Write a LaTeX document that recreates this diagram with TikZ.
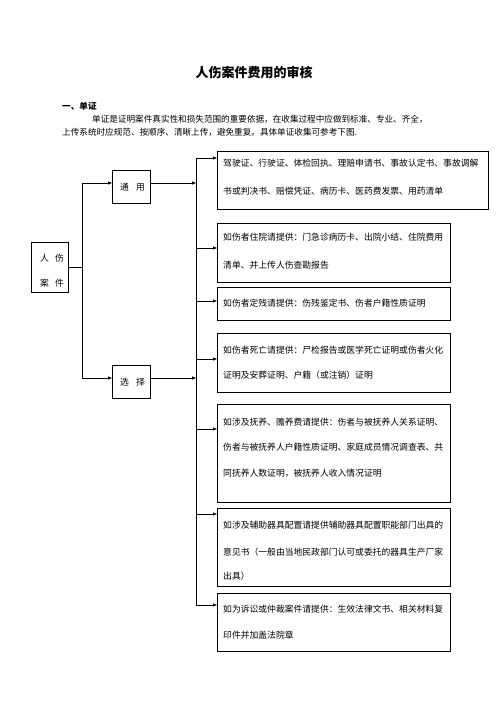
\documentclass[tikz,border=0pt]{standalone}
\usepackage{fontspec}
\setmainfont{Liberation Serif}
\newfontfamily\cjk{Noto Sans CJK SC}
\usetikzlibrary{arrows.meta}
\tikzset{
  box/.style={draw, line width=0.8pt, inner sep=0pt, outer sep=0pt, anchor=north west},
  txt/.style={anchor=west, inner sep=0pt, font=\cjk\fontsize{8.8}{10}\selectfont},
  ptxt/.style={anchor=west, inner sep=0pt, font=\cjk\fontsize{8.6}{10}\selectfont},
  ln/.style={line width=0.8pt},
  arr/.style={line width=0.8pt, -{Triangle[length=4pt,width=3pt]}}
}
\begin{document}
\begin{tikzpicture}[x=1pt,y=-1pt]
\path[use as bounding box] (0,0) rectangle (496,702);
% title and text
\node[inner sep=0pt, font=\cjk\bfseries\fontsize{13}{15}\selectfont] (title) at (254,73) {人伤案件费用的审核};
\node[ptxt, font=\cjk\bfseries\fontsize{8.6}{10}\selectfont] (h1) at (62,106) {一、单证};
\node[ptxt] (p1) at (92,119) {单证是证明案件真实性和损失范围的重要依据，在收集过程中应做到标准、专业、齐全，};
\node[ptxt] (p2) at (62,132) {上传系统时应规范、按顺序、清晰上传，避免重复。具体单证收集可参考下图.};
% left boxes
\node[box, minimum width=37pt, minimum height=50pt] (rs) at (31,242) {};
\node[txt] (rs1) at (40,258) {人\hspace{0.7em}伤};
\node[txt] (rs2) at (40,283) {案\hspace{0.7em}件};
\node[box, minimum width=38pt, minimum height=33pt] (ty) at (112,170) {};
\node[txt] (ty1) at (120,187.5) {通\hspace{0.8em}用};
\node[box, minimum width=38pt, minimum height=33pt] (xz) at (112,365) {};
\node[txt] (xz1) at (120,382) {选\hspace{0.8em}择};
% right boxes
\node[box, minimum width=271pt, minimum height=58pt] (b1) at (217,151) {};
\node[txt] (b1a) at (223,163) {驾驶证、行驶证、体检回执、理赔申请书、事故认定书、事故调解};
\node[txt] (b1b) at (223,191) {书或判决书、赔偿凭证、病历卡、医药费发票、用药清单};
\node[box, minimum width=233pt, minimum height=59pt] (b2) at (217,223) {};
\node[txt] (b2a) at (223,237) {如伤者住院请提供：门急诊病历卡、出院小结、住院费用};
\node[txt] (b2b) at (223,265) {清单、并上传人伤查勘报告};
\node[box, minimum width=233pt, minimum height=33pt] (b3) at (217,287) {};
\node[txt] (b3a) at (223,303) {如伤者定残请提供：伤残鉴定书、伤者户籍性质证明};
\node[box, minimum width=233pt, minimum height=59pt] (b4) at (217,333) {};
\node[txt] (b4a) at (223,350) {如伤者死亡请提供：尸检报告或医学死亡证明或伤者火化};
\node[txt] (b4b) at (223,375) {证明及安葬证明、户籍（或注销）证明};
\node[box, minimum width=233pt, minimum height=98pt] (b5) at (217,404) {};
\node[txt] (b5a) at (223,422) {如涉及抚养、赡养费请提供：伤者与被抚养人关系证明、};
\node[txt] (b5b) at (223,447) {伤者与被抚养人户籍性质证明、家庭成员情况调查表、共};
\node[txt] (b5c) at (223,473) {同抚养人数证明，被抚养人收入情况证明};
\node[box, minimum width=233pt, minimum height=78pt] (b6) at (217,508) {};
\node[txt] (b6a) at (223,525) {如涉及辅助器具配置请提供辅助器具配置职能部门出具的};
\node[txt] (b6b) at (223,552) {意见书（一般由当地民政部门认可或委托的器具生产厂家};
\node[txt] (b6c) at (223,576) {出具）};
\node[box, minimum width=233pt, minimum height=58pt] (b7) at (217,593) {};
\node[txt] (b7a) at (223,609) {如为诉讼或仲裁案件请提供：生效法律文书、相关材料复};
\node[txt] (b7b) at (223,635) {印件并加盖法院章};
% trunk
\coordinate (j0) at (82,267);
\coordinate (jt) at (82,183);
\coordinate (jb) at (82,378);
\draw[ln] (rs.east) -- (j0);
\draw[ln] (jt) -- (jb);
\draw[arr] (jt) -- (ty.west |- jt);
\draw[arr] (jb) -- (xz.west |- jb);
% spine
\coordinate (s1) at (196,158);
\coordinate (s2) at (196,248);
\coordinate (s3) at (196,301);
\coordinate (s4) at (196,359);
\coordinate (s5) at (196,429);
\coordinate (s6) at (196,514);
\coordinate (s7) at (196,605);
\draw[ln] (s1) -- (s7);
\draw[arr] (ty.east |- jt) -- (s1 |- jt);
\draw[arr] (xz.east |- jb) -- (s1 |- jb);
\draw[arr] (s1) -- (b1.west |- s1);
\draw[arr] (s2) -- (b2.west |- s2);
\draw[arr] (s3) -- (b3.west |- s3);
\draw[arr] (s4) -- (b4.west |- s4);
\draw[arr] (s5) -- (b5.west |- s5);
\draw[arr] (s6) -- (b6.west |- s6);
\draw[arr] (s7) -- (b7.west |- s7);
\end{tikzpicture}
\end{document}
